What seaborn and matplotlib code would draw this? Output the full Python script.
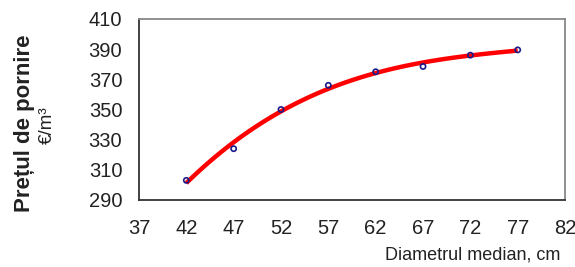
import numpy as np
import pandas as pd
import matplotlib
matplotlib.use("Agg")
import matplotlib.pyplot as plt
import seaborn as sns

# data
diametru = [42, 47, 52, 57, 62, 67, 72, 77]
pret = [303, 324, 350, 366, 375, 378.5, 386, 389.5]

x_ticks = [37, 42, 47, 52, 57, 62, 67, 72, 77, 82]
y_ticks = [290, 310, 330, 350, 370, 390, 410]

df = pd.DataFrame({"d": diametru, "p": pret})

sns.set_style("white")
plt.rcParams['font.family'] = ['Liberation Sans', 'DejaVu Sans']

fig = plt.figure(figsize=(5.75, 2.67), dpi=100)
ax = fig.add_axes([0.2417, 0.251, 0.741, 0.678])

# trend line (polynomial) + observed points
sns.regplot(data=df, x="d", y="p", order=3, ci=None, scatter=False, ax=ax,
            line_kws=dict(color="#ff0000", lw=3.2, solid_capstyle="butt"))
sns.scatterplot(data=df, x="d", y="p", ax=ax, marker="o", s=14,
                facecolor="none", edgecolor="#1a1a8c", linewidth=1.2, zorder=5)

ax.set_xlim(37, 82)
ax.set_ylim(290, 410)
ax.set_xticks(x_ticks)
ax.set_yticks(y_ticks)
ax.tick_params(axis="both", direction="out", length=5, width=1, color="#333333",
               labelsize=14.5, labelcolor="#222222", pad=7)
ax.tick_params(axis="x", pad=9)

for side in ["left", "bottom"]:
    ax.spines[side].set_color("#333333")
    ax.spines[side].set_linewidth(1.3)
for side in ["top", "right"]:
    ax.spines[side].set_color("#888888")
    ax.spines[side].set_linewidth(1.3)

ax.set_xlabel("")
ax.set_ylabel("")

fig.text(0.042, 0.54, "Prețul de pornire", rotation=90, ha="center", va="center",
         fontsize=16, fontweight="bold", color="#222222")
fig.text(0.082, 0.53, "€/m³", rotation=90, ha="center", va="center",
         fontsize=13.5, color="#222222")
fig.text(0.975, 0.045, "Diametrul median, cm", ha="right", va="center",
         fontsize=13, color="#222222")

fig.savefig("out.png", dpi=100)
